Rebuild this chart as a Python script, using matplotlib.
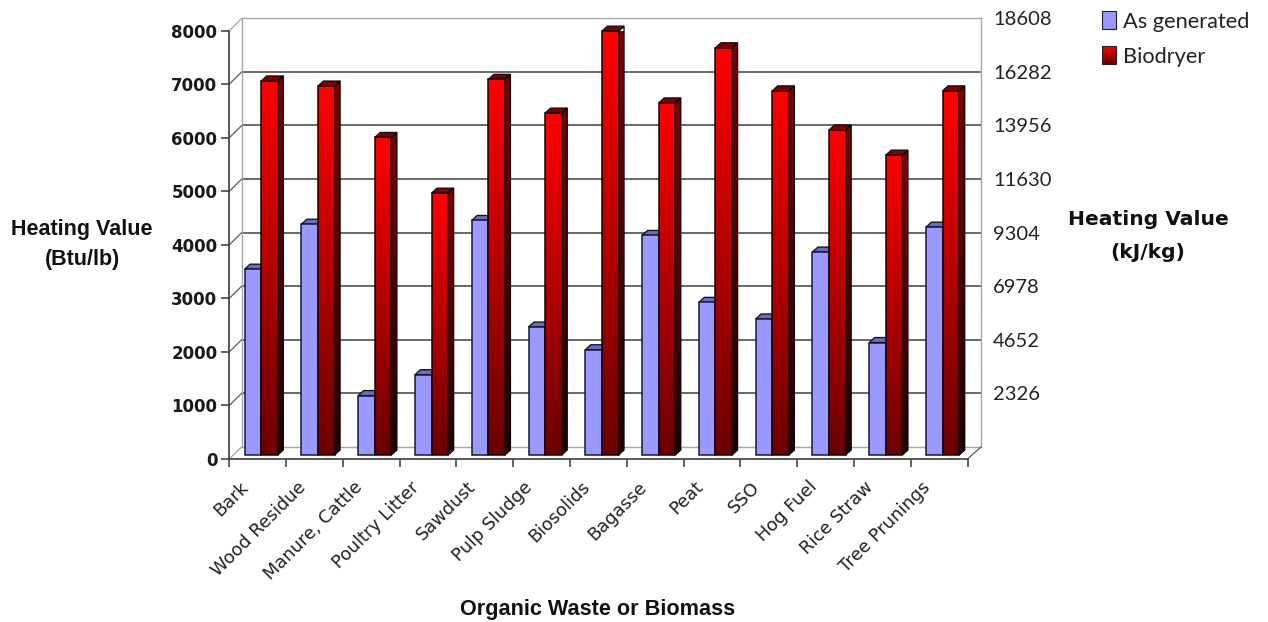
import numpy as np
import matplotlib
matplotlib.use("Agg")
import matplotlib.pyplot as plt
from matplotlib.patches import Polygon, Rectangle, Patch
from matplotlib.colors import LinearSegmentedColormap
from matplotlib.legend_handler import HandlerPatch

categories = ["Bark", "Wood Residue", "Manure, Cattle", "Poultry Litter", "Sawdust",
              "Pulp Sludge", "Biosolids", "Bagasse", "Peat", "SSO", "Hog Fuel",
              "Rice Straw", "Tree Prunings"]
as_generated = [3470, 4310, 1110, 1500, 4380, 2390, 1965, 4100, 2850, 2540, 3790, 2100, 4255]
biodryer = [6985, 6890, 5930, 4890, 7015, 6385, 7915, 6575, 7605, 6800, 6070, 5600, 6800]
btu_ticks = [0, 1000, 2000, 3000, 4000, 5000, 6000, 7000, 8000]
kj_ticks = [0, 2326, 4652, 6978, 9304, 11630, 13956, 16282, 18608]

W, H = 1268, 622
DARK = "#404040"
GRAY = "#a6a6a6"
BLUE = "#9999ff"
DPT = 0.72


def rect(l, t, r, b):
    return [l / W, 1 - b / H, (r - l) / W, (b - t) / H]


fig = plt.figure(figsize=(W / 100, H / 100), dpi=100, facecolor="white")

# back wall with the kJ/kg scale
back = fig.add_axes(rect(241.5, 18.3, 981, 447), zorder=1)
back.set_facecolor("white")
back.set_xlim(0, 1)
back.set_ylim(0, kj_ticks[-1])
back.set_xticks([])
back.yaxis.tick_right()
back.set_yticks(kj_ticks)
back.set_yticklabels([""] + [str(t) for t in kj_ticks[1:]], family="Lato", fontsize=14.5, color="#222222")
back.tick_params(axis="y", length=0, pad=12 * DPT)
back.grid(axis="y", color="#484848", lw=1.6 * DPT)
back.set_axisbelow(True)
for s in back.spines.values():
    s.set_color(GRAY)
    s.set_linewidth(1.4 * DPT)
for g in (back.get_ygridlines()[0], back.get_ygridlines()[-1]):
    g.set_visible(False)

# front plane with the Btu/lb scale
ax = fig.add_axes(rect(229.3, 30.6, 967.5, 459), zorder=2)
ax.patch.set_alpha(0)
ax.set_autoscale_on(False)
ax.set_xlim(0, len(categories))
ax.set_ylim(0, btu_ticks[-1])
px_x = (967.5 - 229.3) / len(categories)
px_y = (459 - 30.6) / btu_ticks[-1]
to_dx = lambda p: p / px_x
to_dy = lambda p: p / px_y

for s in ("top", "right"):
    ax.spines[s].set_visible(False)
for s in ("left", "bottom"):
    ax.spines[s].set_color(DARK)
    ax.spines[s].set_linewidth(1.7 * DPT)
ax.set_yticks(btu_ticks)
ax.set_yticklabels([str(t) for t in btu_ticks], family="DejaVu Sans", fontweight="bold", fontsize=12, color="#1a1a1a")
ax.tick_params(axis="y", length=8 * DPT, width=1.6 * DPT, color=DARK, pad=4 * DPT)
ax.set_xticks(np.arange(len(categories) + 1))
ax.set_xticklabels([])
ax.tick_params(axis="x", which="major", length=8 * DPT, width=1.6 * DPT, color=DARK)
ax.set_xticks(np.arange(len(categories)) + 0.5 - to_dx(18), minor=True)
ax.set_xticklabels(categories, minor=True, rotation=45, ha="right", va="top", rotation_mode="anchor",
                   family="DejaVu Sans", fontsize=12.8, color="#222222")
ax.tick_params(axis="x", which="minor", length=0, pad=19 * DPT)

# corner diagonals between the front plane and the back wall
wx, wy = to_dx(12.2), to_dy(12)
for t in btu_ticks:
    col = GRAY if t in (btu_ticks[0], btu_ticks[-1]) else "#606060"
    ax.plot([0, wx], [t, t + wy], color=col, lw=1.3 * DPT, clip_on=False, zorder=1)
ax.plot([len(categories), len(categories) + to_dx(13.5)], [0, wy], color="#606060", lw=1.3 * DPT, clip_on=False, zorder=1)

# bars
bw = 16.6 / px_x
ox, oy = to_dx(3.5), to_dy(4)
sx, sy = to_dx(5.5), to_dy(5)
cmap_front = LinearSegmentedColormap.from_list("f", ["#ff0000", "#690000"])
cmap_side = LinearSegmentedColormap.from_list("s", ["#7d0000", "#1e0000"])
grad = np.linspace(0, 1, 256)[:, None]


def draw_top(x0, x1, top, color, z):
    ax.add_patch(Polygon([(x0, top), (x0 + sx, top + sy), (x1 + sx, top + sy), (x1, top)],
                         facecolor=color, edgecolor="#111111", lw=1.3 * DPT, clip_on=False, zorder=z))


for i, (a, b) in enumerate(zip(as_generated, biodryer)):
    c = i + 0.5 + ox
    # as generated
    x0, x1 = c - bw, c
    draw_top(x0, x1, oy + a, "#6c6cc4", 3)
    ax.bar(x0, a, bw, bottom=oy, align="edge", color=BLUE, edgecolor="#15152e", lw=1.5 * DPT, clip_on=False, zorder=3.1)
    # biodryer
    x0, x1 = c, c + bw
    top = oy + b
    draw_top(x0, x1, top, "#800000", 4)
    side = Polygon([(x1, oy), (x1 + sx, oy + sy), (x1 + sx, top + sy), (x1, top)],
                   facecolor="none", edgecolor="#0a0000", lw=1.3 * DPT, clip_on=False, zorder=4.2)
    ax.add_patch(side)
    im = ax.imshow(grad, extent=(x1, x1 + sx, oy, top + sy), aspect="auto", cmap=cmap_side, clip_on=True, zorder=4.1, interpolation="bilinear")
    im.set_clip_path(Polygon(side.get_xy(), transform=ax.transData))
    im2 = ax.imshow(grad, extent=(x0, x1, oy, top), aspect="auto", cmap=cmap_front, clip_on=False, zorder=4.3, interpolation="bilinear")
    ax.bar(x0, b, bw, bottom=oy, align="edge", facecolor="none", edgecolor="#140000", lw=1.5 * DPT, clip_on=False, zorder=4.4)
ax.set_xlim(0, len(categories))
ax.set_ylim(0, btu_ticks[-1])


class GradientHandler(HandlerPatch):
    def create_artists(self, legend, orig, xd, yd, width, height, fontsize, trans):
        arts = []
        n = 24
        for k in range(n):
            arts.append(Rectangle((xd * -1, -yd + height * (n - 1 - k) / n), width, height / n + 0.2,
                                  facecolor=cmap_front(k / (n - 1)), edgecolor="none", transform=trans))
        arts.append(Rectangle((-xd, -yd), width, height, facecolor="none", edgecolor="#222222", lw=1.1 * DPT, transform=trans))
        return arts


h1 = Patch(facecolor=BLUE, edgecolor="#222222", lw=1.1 * DPT, label="As generated")
h2 = Patch(facecolor="red", label="Biodryer")
fig.legend(handles=[h1, h2], handler_map={h2: GradientHandler()}, loc="upper left",
           bbox_to_anchor=(1101.5 / W, 1 - 11 / H), frameon=False, borderpad=0, borderaxespad=0,
           handlelength=0.66, handleheight=0.9, handletextpad=0.34, labelspacing=0.66,
           prop={"family": "Lato", "size": 15.7}, labelcolor="#222222")

fig.text(82 / W, 1 - 244.5 / H, "Heating Value\n(Btu/lb)", ha="center", va="center", family="Liberation Sans",
         fontweight="bold", fontsize=15.5, color="#111111", linespacing=1.5)
fig.text(1148 / W, 1 - 236 / H, "Heating Value\n(kJ/kg)", ha="center", va="center", family="DejaVu Sans",
         fontweight="bold", fontsize=14.6, color="#111111", linespacing=1.9)
fig.text(598 / W, 1 - 609 / H, "Organic Waste or Biomass", ha="center", va="center", family="Liberation Sans",
         fontweight="bold", fontsize=15.6, color="#111111")

fig.savefig("out.png", dpi=100)
